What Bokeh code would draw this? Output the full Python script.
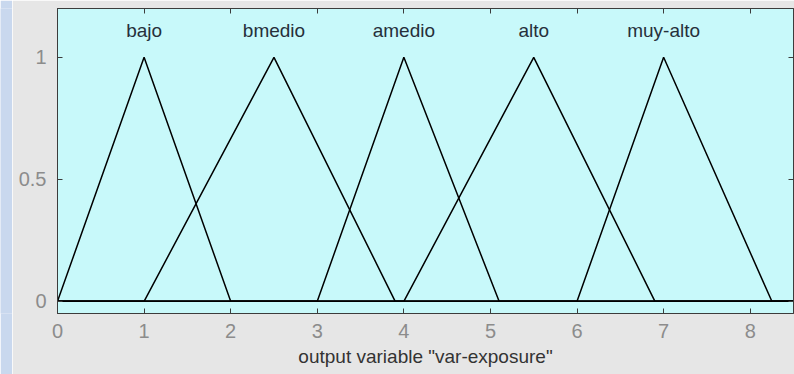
from bokeh.plotting import figure
from bokeh.layouts import row
from bokeh.models import Range1d, FixedTicker, LinearAxis, ColumnDataSource
from bokeh.core.properties import value
from bokeh.embed import file_html
from bokeh.resources import INLINE

# Triangular membership functions of the output variable (a, peak, c)
mf_names = ["bajo", "bmedio", "amedio", "alto", "muy-alto"]
mf_a = [0.0, 1.0, 3.0, 4.0, 6.0]
mf_b = [1.0, 2.5, 4.0, 5.5, 7.0]
mf_c = [2.0, 3.9, 5.1, 6.9, 8.25]

x_min, x_max = 0.0, 8.5
x_ticks = [0, 1, 2, 3, 4, 5, 6, 7, 8]
y_ticks = [0, 0.5, 1]
y_tick_labels = ["0", "0.5", "1"]
label_height = 1.11

FONT = "Liberation Sans"
GRAY_BG = "#e6e6e6"
AX_BG = "#c8f9fa"
FRAME = "#3c3c3c"

# narrow window-edge strip on the left
strip = figure(width=12, height=374, toolbar_location=None, output_backend="svg",
               x_axis_type=None, y_axis_type=None, min_border=0)
strip.border_fill_color = "#c9d8ee"
strip.background_fill_color = "#c9d8ee"
strip.outline_line_color = None
strip.grid.visible = False

p = figure(width=782, height=374, toolbar_location=None, output_backend="svg",
           x_range=Range1d(x_min, x_max), y_range=Range1d(-0.05, 1.2),
           min_border_left=45, min_border_right=1, min_border_top=8, min_border_bottom=61)
p.border_fill_color = GRAY_BG
p.background_fill_color = AX_BG
p.outline_line_color = FRAME
p.outline_line_width = 1
p.grid.visible = False

for name, a, b, c in zip(mf_names, mf_a, mf_b, mf_c):
    p.line([x_min, a, b, c, x_max], [0, 0, 1, 0, 0], line_color="black", line_width=1.5)

src = ColumnDataSource(dict(x=mf_b, y=[label_height] * len(mf_b), t=mf_names))
p.text("x", "y", text="t", source=src, text_align="center", text_baseline="middle",
       text_font=value(FONT), text_font_size="19px", text_color="#26303a")

def style_axis(ax, show_labels):
    ax.axis_line_color = FRAME
    ax.major_tick_line_color = FRAME
    ax.major_tick_in = 5
    ax.major_tick_out = 0
    ax.minor_tick_line_color = None
    ax.major_label_text_font = FONT
    ax.major_label_text_font_size = "20px"
    ax.major_label_text_color = "#8c8c8c" if show_labels else None
    if not show_labels:
        ax.major_label_standoff = 0

xa = p.xaxis[0]
xa.ticker = FixedTicker(ticks=x_ticks)
style_axis(xa, True)
xa.major_label_standoff = 10
xa.axis_label = 'output variable "var-exposure"'
xa.axis_label_text_font = FONT
xa.axis_label_text_font_size = "19px"
xa.axis_label_text_font_style = "normal"
xa.axis_label_text_color = "#333333"
xa.axis_label_standoff = 5

ya = p.yaxis[0]
ya.ticker = FixedTicker(ticks=y_ticks)
ya.major_label_overrides = {t: s for t, s in zip(y_ticks, y_tick_labels)}
style_axis(ya, True)
ya.major_label_standoff = 11

top = LinearAxis(ticker=FixedTicker(ticks=x_ticks))
style_axis(top, False)
p.add_layout(top, "above")
right = LinearAxis(ticker=FixedTicker(ticks=y_ticks))
style_axis(right, False)
p.add_layout(right, "right")

layout = row(strip, p, spacing=0)
open("out.html", "w").write(file_html(layout, INLINE))
